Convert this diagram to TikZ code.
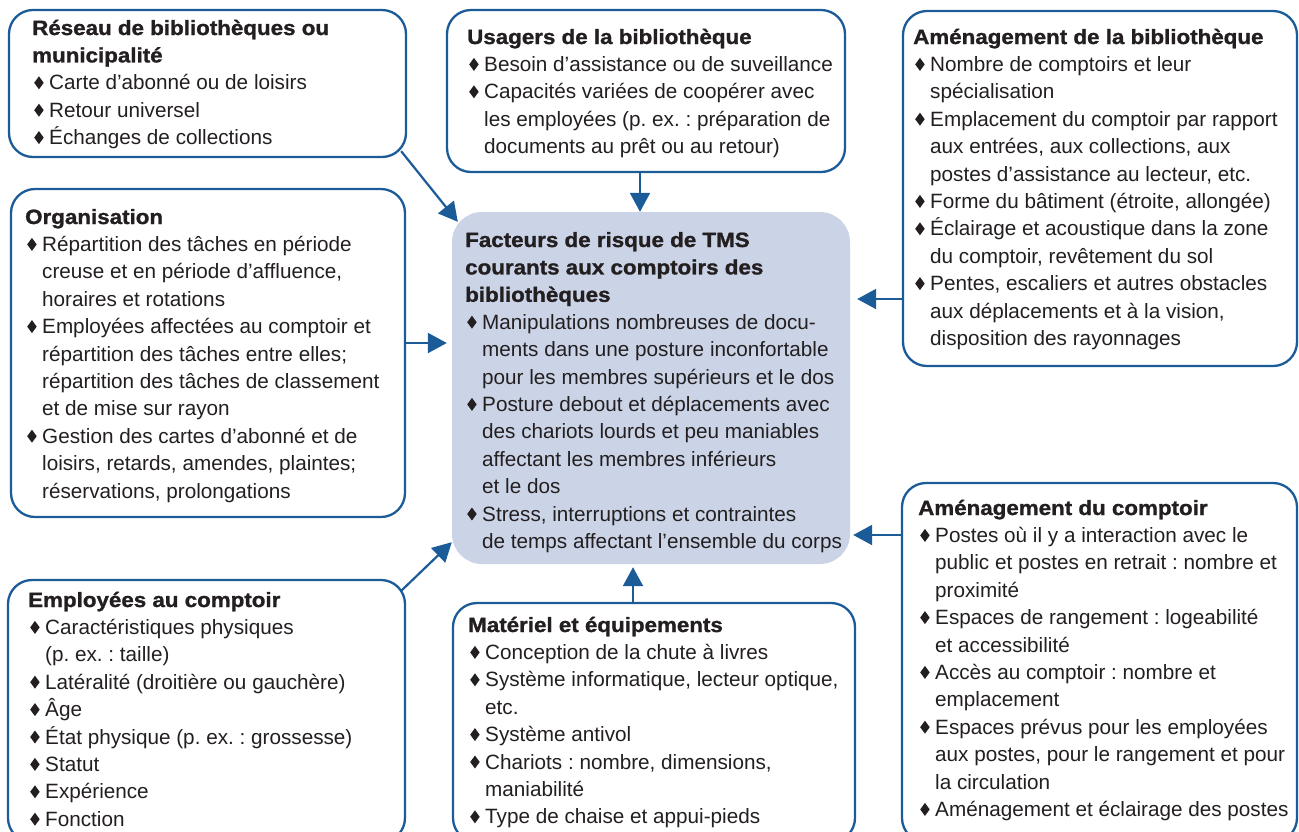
\documentclass[tikz,border=0pt]{standalone}
\usepackage{fontspec}
\setmainfont{Liberation Sans}
\newfontfamily\titlefont[FakeStretch=1.08,FakeBold=1.2]{Liberation Sans}
\usetikzlibrary{arrows.meta,calc}
\definecolor{bblue}{RGB}{26,91,152}
\definecolor{cfill}{RGB}{203,212,231}
\definecolor{txt}{RGB}{35,31,32}
\frenchspacing
\newcommand\dia{\tikz[baseline=0pt,x=1pt,y=1pt]\fill[txt] (4.75,0.5)--(9.5,7)--(4.75,13.5)--(0,7)--cycle;}
\newcommand\ttl[1]{{\titlefont\bfseries #1}\par}
\newcommand\itm[1]{\hspace*{2pt}\makebox[15pt][l]{\dia}#1\par}
\newcommand\cnt[1]{\hspace*{17pt}#1\par}
\newcommand\blk[1]{\parbox[t]{420pt}{\fontsize{20.7pt}{27.4pt}\selectfont\parindent=0pt\parskip=0pt\frenchspacing #1}}
\begin{document}
\begin{tikzpicture}[x=1pt,y=-1pt,
  box/.style={draw=bblue, line width=2.3pt, rounded corners=24pt, inner sep=0pt},
  cbox/.style={fill=cfill, rounded corners=30pt, inner sep=0pt},
  tx/.style={anchor=base west, inner sep=0pt, text=txt},
  arr/.style={draw=bblue, line width=2.2pt, -{Triangle[width=20pt,length=19pt]}}]
\useasboundingbox (0,0) rectangle (1299,831);
\fill[white] (0,0) rectangle (1299,831);
\clip (0,0) rectangle (1299,831);
% boxes
\node[box, minimum width=397pt, minimum height=147pt] (b1) at (207.5,83.5) {};
\node[box, minimum width=398pt, minimum height=162pt] (b2) at (646,91) {};
\node[box, minimum width=394pt, minimum height=355pt] (b3) at (1100,188.5) {};
\node[box, minimum width=394pt, minimum height=328pt] (b4) at (208,353) {};
\node[cbox, minimum width=398pt, minimum height=352pt] (C) at (651,388) {};
\node[box, minimum width=397pt, minimum height=262pt] (b5) at (206.5,711) {};
\node[box, minimum width=402pt, minimum height=239pt] (b6) at (654,722.5) {};
\node[box, minimum width=395pt, minimum height=359pt] (b7) at (1099.5,662.5) {};
% texts
\node[tx] (t1) at (32,35) {\blk{%
\ttl{Réseau de bibliothèques ou}
\ttl{municipalité}
\itm{Carte d’abonné ou de loisirs}
\itm{Retour universel}
\itm{Échanges de collections}}};
\node[tx] (t2) at (467,44) {\blk{%
\ttl{Usagers de la bibliothèque}
\itm{Besoin d’assistance ou de suveillance}
\itm{Capacités variées de coopérer avec}
\cnt{les employées (p. ex. : préparation de}
\cnt{documents au prêt ou au retour)}}};
\node[tx] (t3) at (913,44) {\blk{%
\ttl{Aménagement de la bibliothèque}
\itm{Nombre de comptoirs et leur}
\cnt{spécialisation}
\itm{Emplacement du comptoir par rapport}
\cnt{aux entrées, aux collections, aux}
\cnt{postes d’assistance au lecteur, etc.}
\itm{Forme du bâtiment (étroite, allongée)}
\itm{Éclairage et acoustique dans la zone}
\cnt{du comptoir, revêtement du sol}
\itm{Pentes, escaliers et autres obstacles}
\cnt{aux déplacements et à la vision,}
\cnt{disposition des rayonnages}}};
\node[tx] (t4) at (25,224) {\blk{%
\ttl{Organisation}
\itm{Répartition des tâches en période}
\cnt{creuse et en période d’affluence,}
\cnt{horaires et rotations}
\itm{Employées affectées au comptoir et}
\cnt{répartition des tâches entre elles;}
\cnt{répartition des tâches de classement}
\cnt{et de mise sur rayon}
\itm{Gestion des cartes d’abonné et de}
\cnt{loisirs, retards, amendes, plaintes;}
\cnt{réservations, prolongations}}};
\node[tx] (tc) at (465,247) {\blk{%
\ttl{Facteurs de risque de TMS}
\ttl{courants aux comptoirs des}
\ttl{bibliothèques}
\itm{Manipulations nombreuses de docu-}
\cnt{ments dans une posture inconfortable}
\cnt{pour les membres supérieurs et le dos}
\itm{Posture debout et déplacements avec}
\cnt{des chariots lourds et peu maniables}
\cnt{affectant les membres inférieurs}
\cnt{et le dos}
\itm{Stress, interruptions et contraintes}
\cnt{de temps affectant l’ensemble du corps}}};
\node[tx] (t5) at (28,607) {\blk{%
\ttl{Employées au comptoir}
\itm{Caractéristiques physiques}
\cnt{(p. ex. : taille)}
\itm{Latéralité (droitière ou gauchère)}
\itm{Âge}
\itm{État physique (p. ex. : grossesse)}
\itm{Statut}
\itm{Expérience}
\itm{Fonction}}};
\node[tx] (t6) at (468,632) {\blk{%
\ttl{Matériel et équipements}
\itm{Conception de la chute à livres}
\itm{Système informatique, lecteur optique,}
\cnt{etc.}
\itm{Système antivol}
\itm{Chariots : nombre, dimensions,}
\cnt{maniabilité}
\itm{Type de chaise et appui-pieds}}};
\node[tx] (t7) at (918,515) {\blk{%
\ttl{Aménagement du comptoir}
\itm{Postes où il y a interaction avec le}
\cnt{public et postes en retrait : nombre et}
\cnt{proximité}
\itm{Espaces de rangement : logeabilité}
\cnt{et accessibilité}
\itm{Accès au comptoir : nombre et}
\cnt{emplacement}
\itm{Espaces prévus pour les employées}
\cnt{aux postes, pour le rangement et pour}
\cnt{la circulation}
\itm{Aménagement et éclairage des postes}}};
% arrows
\draw[arr] ([shift={(-6,-7)}]b1.south east) -- ([shift={(6,10)}]C.north west);
\draw[arr] (640,0 |- b2.south) -- (640,0 |- C.north);
\draw[arr, shorten >=7pt] (b3.west |- 0,299) -- (C.east |- 0,299);
\draw[arr, shorten >=5pt] (b4.east |- 0,343) -- (C.west |- 0,343);
\draw[arr, shorten >=3pt] (b7.west |- 0,535) -- (C.east |- 0,535);
\draw[arr] ([shift={(-5,12)}]b5.north east) -- ([shift={(0,-22)}]C.south west);
\draw[arr, shorten >=3pt] (633,0 |- b6.north) -- (633,0 |- C.south);
\end{tikzpicture}
\end{document}
